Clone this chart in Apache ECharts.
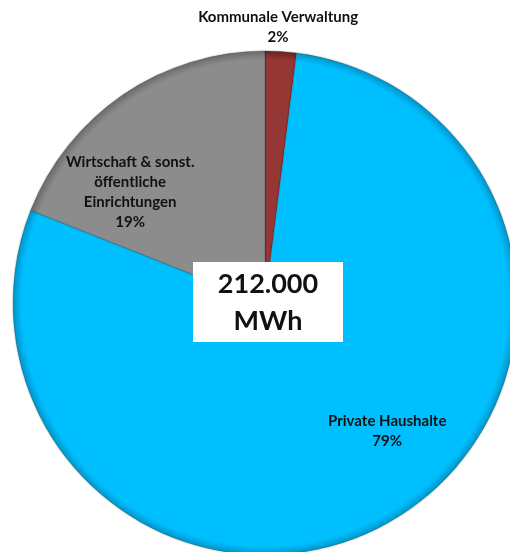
<!DOCTYPE html>
<html>
<head>
<meta charset="utf-8">
<script src="https://cdn.jsdelivr.net/npm/echarts@6/dist/echarts.min.js"></script>
<style>
  html, body { margin: 0; padding: 0; background: #fff; }
  #chart { width: 510px; height: 552px; }
</style>
</head>
<body>
<div id="chart"></div>
<script>
// Stromverbrauch nach Sektoren (Anteile in %)
const categories = ['Kommunale Verwaltung', 'Private Haushalte', 'Wirtschaft & sonst.\nöffentliche\nEinrichtungen'];
const shares = [2, 79, 19];
const totalLabel = ['212.000', 'MWh'];

const colors = ['#953735', '#00BFFF', '#8C8C8C'];
const rimColors = ['#6a2321', '#0095c8', '#6a6a6a'];

const cx = 265, cy = 303, R = 252;

// Slightly darkened rim to give the pie a bevelled look
function fill(i) {
  return {
    type: 'radial', x: cx, y: cy, r: R, global: true,
    colorStops: [
      { offset: 0, color: colors[i] },
      { offset: 0.965, color: colors[i] },
      { offset: 1, color: rimColors[i] }
    ]
  };
}

// label anchor points (relative to pie centre, in units of the radius)
const labelSpots = [
  { dx: 0.052, dy: -1.095 },
  { dx: 0.485, dy: 0.51 },
  { dx: -0.535, dy: -0.44 }
];

const chart = echarts.init(document.getElementById('chart'));
chart.setOption({
  animation: false,
  series: [{
    type: 'pie',
    center: [cx, cy],
    radius: R,
    startAngle: 90,
    clockwise: true,
    avoidLabelOverlap: false,
    data: categories.map((name, i) => ({
      name: name,
      value: shares[i],
      itemStyle: { color: fill(i) },
      label: { position: i === 0 ? 'outside' : 'inside' }
    })),
    itemStyle: {
      borderColor: 'rgba(0,0,0,0.18)',
      borderWidth: 0.8,
      shadowBlur: 2,
      shadowColor: 'rgba(0,0,0,0.35)'
    },
    labelLine: { show: false },
    label: {
      show: true,
      formatter: p => p.name + '\n' + p.value + '%',
      fontFamily: 'Lato',
      fontWeight: 'bold',
      fontSize: 15,
      lineHeight: 20,
      color: '#111',
      align: 'center'
    },
    labelLayout: p => {
      const s = labelSpots[p.dataIndex];
      return {
        x: cx + s.dx * R,
        y: cy + s.dy * R,
        align: 'center',
        verticalAlign: 'middle'
      };
    }
  }],
  graphic: [{
    type: 'group',
    left: 193,
    top: 262,
    z: 100,
    children: [
      { type: 'rect', z: 100, shape: { x: 0, y: 0, width: 150, height: 80 }, style: { fill: '#fff' } },
      {
        type: 'text', z: 101, x: 75, y: 41,
        style: {
          text: totalLabel.join('\n'),
          fontFamily: 'Lato', fontWeight: 'bold', fontSize: 27, lineHeight: 37,
          fill: '#111', align: 'center', verticalAlign: 'middle'
        }
      }
    ]
  }]
});
</script>
</body>
</html>
